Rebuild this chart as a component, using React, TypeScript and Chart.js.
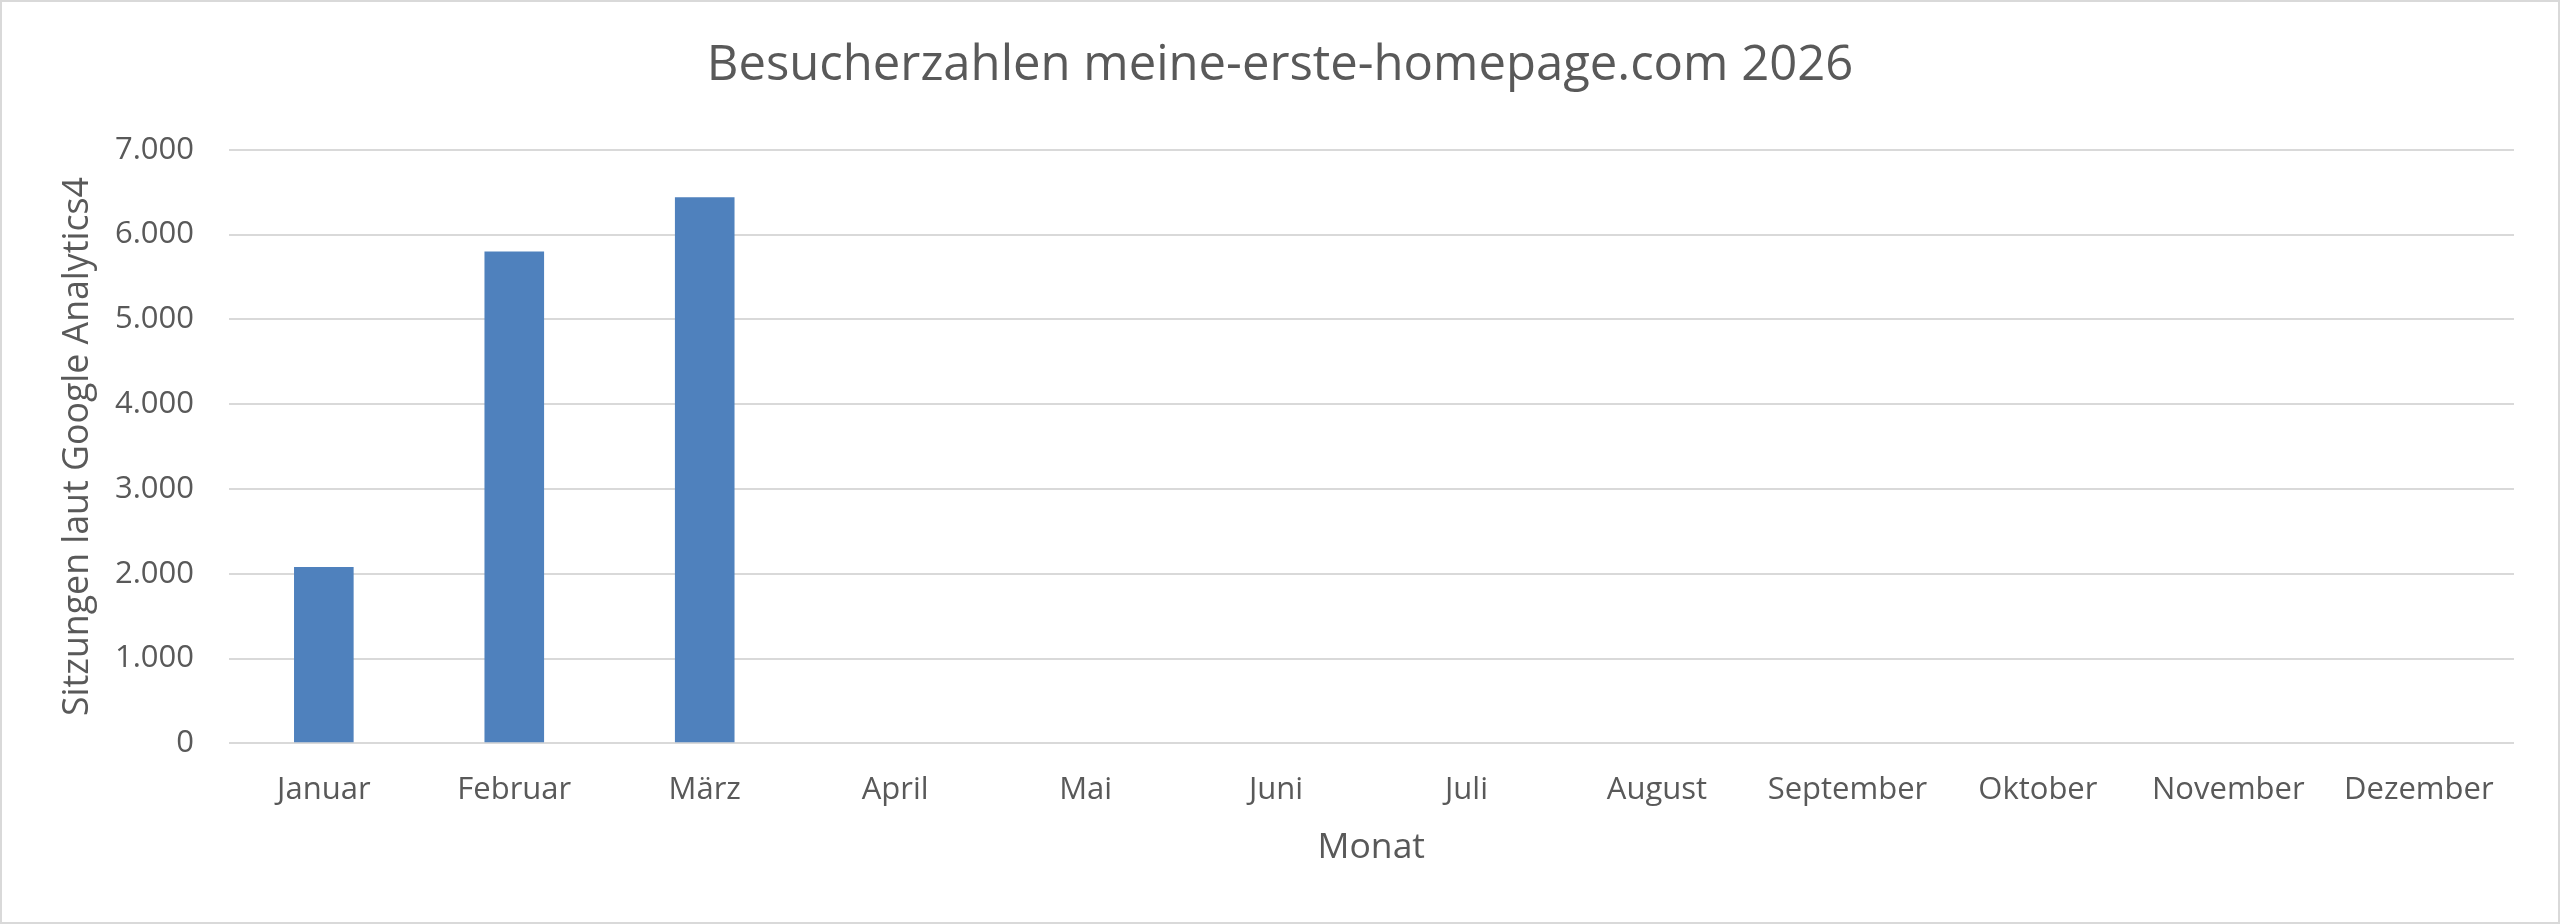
import React, { useEffect, useRef } from "react";
import { Chart, registerables } from "chart.js";

Chart.register(...registerables);

const chartTitle = "Besucherzahlen meine-erste-homepage.com 2026";
const yAxisTitle = "Sitzungen laut Google Analytics4";
const xAxisTitle = "Monat";
const months = [
  "Januar",
  "Februar",
  "März",
  "April",
  "Mai",
  "Juni",
  "Juli",
  "August",
  "September",
  "Oktober",
  "November",
  "Dezember",
];
const sessions: (number | null)[] = [2080, 5800, 6440, null, null, null, null, null, null, null, null, null];
const yMin = 0;
const yMax = 7000;
const yStep = 1000;

const W = 2560;
const H = 924;
const FONT = '"Open Sans", "Noto Sans", sans-serif';
const TEXT = "#595959";
const GRID = "#d9d9d9";
const BAR = "#4f81bd";

function formatDe(v: number): string {
  const s = Math.round(v).toString();
  return s.replace(/\B(?=(\d{3})+(?!\d))/g, ".");
}

const framePlugin = {
  id: "frame",
  beforeDraw(chart: any) {
    const { ctx, width, height } = chart;
    ctx.save();
    ctx.fillStyle = "#ffffff";
    ctx.fillRect(0, 0, width, height);
    ctx.restore();
  },
  afterDraw(chart: any) {
    const { ctx, width, height } = chart;
    ctx.save();
    ctx.strokeStyle = GRID;
    ctx.lineWidth = 2;
    ctx.strokeRect(1, 1, width - 2, height - 2);
    ctx.restore();
  },
};

export default function App() {
  const ref = useRef<HTMLCanvasElement | null>(null);

  useEffect(() => {
    document.body.style.margin = "0";
    let chart: Chart | null = null;
    let cancelled = false;
    const make = () => {
      if (cancelled || !ref.current) return;
      chart = new Chart(ref.current, {
        type: "bar",
        data: {
          labels: months,
          datasets: [
            {
              data: sessions,
              backgroundColor: BAR,
              borderWidth: 0,
              categoryPercentage: 1,
              barPercentage: 0.313,
              yAxisID: "y",
            },
          ],
        },
        options: {
          responsive: false,
          animation: false,
          devicePixelRatio: 1,
          layout: { padding: { left: 0, right: 0, top: 0, bottom: 0 } },
          plugins: {
            legend: { display: false },
            tooltip: { enabled: false },
            title: {
              display: true,
              text: chartTitle,
              color: TEXT,
              font: { family: FONT, size: 49, weight: "normal" as any, lineHeight: 1.2 },
              padding: { top: 37, bottom: 54 },
            },
          },
          scales: {
            x: {
              grid: { display: false, drawTicks: false },
              border: { display: false },
              ticks: {
                color: TEXT,
                font: { family: FONT, size: 31, lineHeight: 1.2 },
                padding: 27.8,
                autoSkip: false,
                maxRotation: 0,
                minRotation: 0,
              },
              title: {
                display: true,
                text: xAxisTitle,
                color: TEXT,
                font: { family: FONT, size: 35.5, lineHeight: 1.2 },
                padding: { top: 0, bottom: 54.6 },
              },
              afterFit(scale: any) {
                scale.height = 180.7;
              },
            },
            y: {
              min: yMin,
              max: yMax,
              grid: { color: GRID, lineWidth: 2, drawTicks: false },
              border: { display: false },
              ticks: {
                stepSize: yStep,
                color: TEXT,
                font: { family: FONT, size: 31, lineHeight: 1.2 },
                padding: 34.6,
                callback: (v: any) => formatDe(Number(v)),
              },
              title: {
                display: true,
                text: yAxisTitle,
                color: TEXT,
                font: { family: FONT, size: 35.7, lineHeight: 1.2 },
                padding: { top: 56.6, bottom: 0 },
              },
              afterFit(scale: any) {
                scale.width = 228.6;
              },
            },
            yRightSpace: {
              type: "linear",
              position: "right",
              display: true,
              min: yMin,
              max: yMax,
              grid: { display: false, drawTicks: false },
              border: { display: false },
              ticks: { display: false },
              afterFit(scale: any) {
                scale.width = 46;
              },
            },
          },
        },
        plugins: [framePlugin],
      });
    };
    const fonts = (document as any).fonts;
    if (fonts && fonts.load) {
      Promise.all([
        fonts.load('31px "Open Sans"'),
        fonts.load('49px "Open Sans"'),
      ])
        .catch(() => null)
        .then(make);
    } else {
      make();
    }
    return () => {
      cancelled = true;
      if (chart) chart.destroy();
    };
  }, []);

  return (
    <div style={{ width: W, height: H }}>
      <canvas ref={ref} width={W} height={H} style={{ display: "block", width: W, height: H }} />
    </div>
  );
}
